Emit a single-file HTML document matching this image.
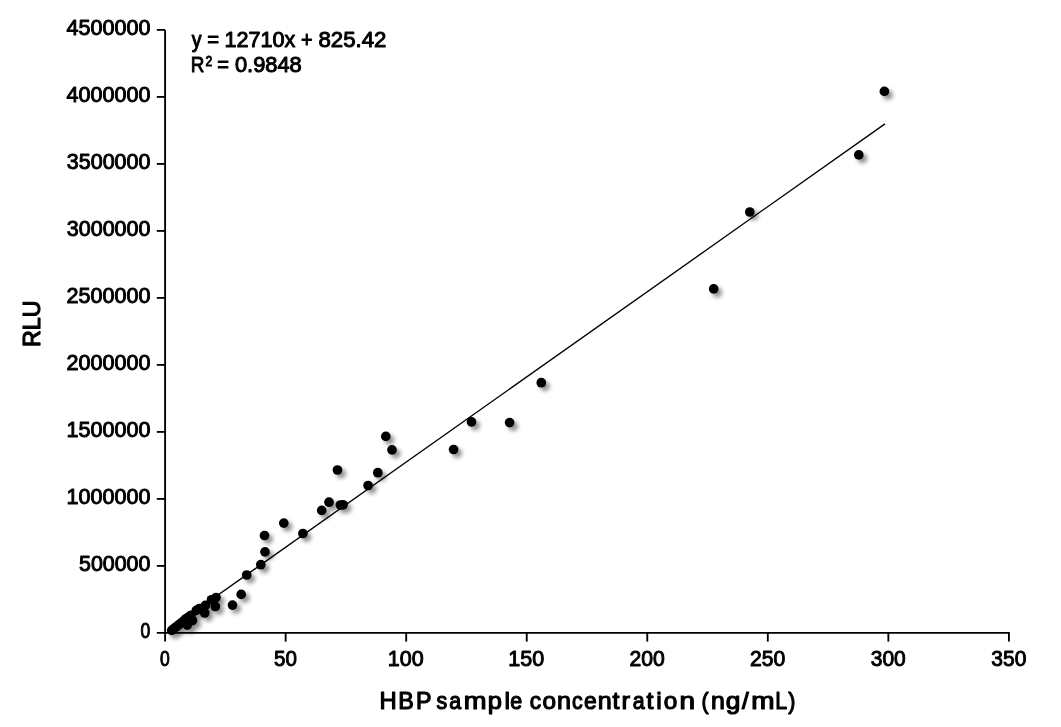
<!DOCTYPE html>
<html><head><meta charset="utf-8"><title>HBP chart</title>
<style>
html,body{margin:0;padding:0;background:#fff;}
body{width:1061px;height:727px;overflow:hidden;font-family:"Liberation Sans",sans-serif;}
svg{display:block;will-change:transform;}
text{font-family:"Liberation Sans",sans-serif;fill:#000;}
.t{stroke:#000;stroke-width:1.0px;stroke-linejoin:round;}
.b{stroke:#000;stroke-width:1.2px;stroke-linejoin:round;}
</style></head><body>
<svg width="1061" height="727" viewBox="0 0 1061 727">
<defs>
<filter id="sh" x="-50%" y="-50%" width="200%" height="200%">
<feGaussianBlur stdDeviation="2.2"/>
</filter>
</defs>
<rect width="1061" height="727" fill="#fff"/>

<g stroke="#000" stroke-width="1.85" fill="none">
<line x1="165.1" y1="29.90" x2="165.1" y2="641.60"/>
<line x1="156.79999999999998" y1="632.9" x2="1009.82" y2="632.9"/>
<line x1="156.79999999999998" y1="565.90" x2="165.1" y2="565.90"/>
<line x1="156.79999999999998" y1="498.90" x2="165.1" y2="498.90"/>
<line x1="156.79999999999998" y1="431.90" x2="165.1" y2="431.90"/>
<line x1="156.79999999999998" y1="364.90" x2="165.1" y2="364.90"/>
<line x1="156.79999999999998" y1="297.90" x2="165.1" y2="297.90"/>
<line x1="156.79999999999998" y1="230.90" x2="165.1" y2="230.90"/>
<line x1="156.79999999999998" y1="163.90" x2="165.1" y2="163.90"/>
<line x1="156.79999999999998" y1="96.90" x2="165.1" y2="96.90"/>
<line x1="156.79999999999998" y1="29.90" x2="165.1" y2="29.90"/>
<line x1="285.64" y1="632.9" x2="285.64" y2="641.60"/>
<line x1="406.19" y1="632.9" x2="406.19" y2="641.60"/>
<line x1="526.73" y1="632.9" x2="526.73" y2="641.60"/>
<line x1="647.27" y1="632.9" x2="647.27" y2="641.60"/>
<line x1="767.81" y1="632.9" x2="767.81" y2="641.60"/>
<line x1="888.36" y1="632.9" x2="888.36" y2="641.60"/>
<line x1="1008.90" y1="632.9" x2="1008.90" y2="641.60"/>
</g>
<text class="t" x="140.52" y="638.20" font-size="22.6" textLength="9.75" lengthAdjust="spacingAndGlyphs">0</text>
<text class="t" x="79.04" y="571.20" font-size="22.6" textLength="71.37" lengthAdjust="spacingAndGlyphs">500000</text>
<text class="t" x="66.58" y="504.20" font-size="22.6" textLength="83.84" lengthAdjust="spacingAndGlyphs">1000000</text>
<text class="t" x="66.58" y="437.20" font-size="22.6" textLength="83.84" lengthAdjust="spacingAndGlyphs">1500000</text>
<text class="t" x="66.54" y="370.20" font-size="22.6" textLength="83.88" lengthAdjust="spacingAndGlyphs">2000000</text>
<text class="t" x="66.54" y="303.20" font-size="22.6" textLength="83.88" lengthAdjust="spacingAndGlyphs">2500000</text>
<text class="t" x="66.80" y="236.20" font-size="22.6" textLength="83.61" lengthAdjust="spacingAndGlyphs">3000000</text>
<text class="t" x="66.80" y="169.20" font-size="22.6" textLength="83.61" lengthAdjust="spacingAndGlyphs">3500000</text>
<text class="t" x="66.55" y="102.20" font-size="22.6" textLength="83.87" lengthAdjust="spacingAndGlyphs">4000000</text>
<text class="t" x="66.55" y="35.20" font-size="22.6" textLength="83.87" lengthAdjust="spacingAndGlyphs">4500000</text>
<text class="t" x="160.12" y="665.90" font-size="22.6" textLength="9.75" lengthAdjust="spacingAndGlyphs">0</text>
<text class="t" x="274.07" y="665.90" font-size="22.6" textLength="22.91" lengthAdjust="spacingAndGlyphs">50</text>
<text class="t" x="387.75" y="665.90" font-size="22.6" textLength="35.86" lengthAdjust="spacingAndGlyphs">100</text>
<text class="t" x="508.30" y="665.90" font-size="22.6" textLength="35.86" lengthAdjust="spacingAndGlyphs">150</text>
<text class="t" x="629.41" y="665.90" font-size="22.6" textLength="35.27" lengthAdjust="spacingAndGlyphs">200</text>
<text class="t" x="749.96" y="665.90" font-size="22.6" textLength="35.27" lengthAdjust="spacingAndGlyphs">250</text>
<text class="t" x="870.76" y="665.90" font-size="22.6" textLength="35.00" lengthAdjust="spacingAndGlyphs">300</text>
<text class="t" x="991.30" y="665.90" font-size="22.6" textLength="35.00" lengthAdjust="spacingAndGlyphs">350</text>
<line x1="167.51" y1="630.69" x2="884.98" y2="123.83" stroke="#000" stroke-width="1.35"/>
<g filter="url(#sh)" fill="#000" opacity="0.44" transform="translate(3.6,3.6)">
<circle cx="884.4" cy="91.4" r="4.85"/>
<circle cx="858.8" cy="154.9" r="4.85"/>
<circle cx="749.8" cy="212.0" r="4.85"/>
<circle cx="713.7" cy="288.9" r="4.85"/>
<circle cx="541.3" cy="382.7" r="4.85"/>
<circle cx="509.6" cy="422.6" r="4.85"/>
<circle cx="471.5" cy="421.9" r="4.85"/>
<circle cx="453.6" cy="449.5" r="4.85"/>
<circle cx="385.8" cy="436.4" r="4.85"/>
<circle cx="392.0" cy="449.9" r="4.85"/>
<circle cx="377.8" cy="472.7" r="4.85"/>
<circle cx="368.1" cy="485.5" r="4.85"/>
<circle cx="337.5" cy="470.0" r="4.85"/>
<circle cx="340.4" cy="505.0" r="4.85"/>
<circle cx="343.0" cy="504.8" r="4.85"/>
<circle cx="329.0" cy="502.2" r="4.85"/>
<circle cx="321.7" cy="510.4" r="4.85"/>
<circle cx="302.9" cy="533.5" r="4.85"/>
<circle cx="283.8" cy="523.1" r="4.85"/>
<circle cx="264.5" cy="535.5" r="4.85"/>
<circle cx="265.0" cy="551.9" r="4.85"/>
<circle cx="260.8" cy="564.7" r="4.85"/>
<circle cx="246.7" cy="575.0" r="4.85"/>
<circle cx="241.2" cy="594.4" r="4.85"/>
<circle cx="232.5" cy="605.1" r="4.85"/>
<circle cx="216.0" cy="597.5" r="4.85"/>
<circle cx="215.3" cy="606.5" r="4.85"/>
<circle cx="211.5" cy="599.8" r="4.85"/>
<circle cx="205.4" cy="605.4" r="4.85"/>
<circle cx="204.7" cy="613.0" r="4.85"/>
<circle cx="199.4" cy="608.5" r="4.85"/>
<circle cx="196.3" cy="610.4" r="4.85"/>
<circle cx="191.0" cy="615.3" r="4.85"/>
<circle cx="192.5" cy="620.6" r="4.85"/>
<circle cx="187.3" cy="625.1" r="4.85"/>
<circle cx="185.7" cy="619.0" r="4.85"/>
<circle cx="171.7" cy="630.4" r="4.85"/>
<circle cx="173.9" cy="628.7" r="4.85"/>
<circle cx="176.0" cy="627.0" r="4.85"/>
<circle cx="178.2" cy="625.3" r="4.85"/>
<circle cx="180.3" cy="623.6" r="4.85"/>
<circle cx="182.5" cy="621.9" r="4.85"/>
<circle cx="184.7" cy="620.2" r="4.85"/>
<circle cx="186.8" cy="618.5" r="4.85"/>
<circle cx="189.0" cy="616.8" r="4.85"/>
</g>
<g fill="#000">
<circle cx="884.4" cy="91.4" r="4.85"/>
<circle cx="858.8" cy="154.9" r="4.85"/>
<circle cx="749.8" cy="212.0" r="4.85"/>
<circle cx="713.7" cy="288.9" r="4.85"/>
<circle cx="541.3" cy="382.7" r="4.85"/>
<circle cx="509.6" cy="422.6" r="4.85"/>
<circle cx="471.5" cy="421.9" r="4.85"/>
<circle cx="453.6" cy="449.5" r="4.85"/>
<circle cx="385.8" cy="436.4" r="4.85"/>
<circle cx="392.0" cy="449.9" r="4.85"/>
<circle cx="377.8" cy="472.7" r="4.85"/>
<circle cx="368.1" cy="485.5" r="4.85"/>
<circle cx="337.5" cy="470.0" r="4.85"/>
<circle cx="340.4" cy="505.0" r="4.85"/>
<circle cx="343.0" cy="504.8" r="4.85"/>
<circle cx="329.0" cy="502.2" r="4.85"/>
<circle cx="321.7" cy="510.4" r="4.85"/>
<circle cx="302.9" cy="533.5" r="4.85"/>
<circle cx="283.8" cy="523.1" r="4.85"/>
<circle cx="264.5" cy="535.5" r="4.85"/>
<circle cx="265.0" cy="551.9" r="4.85"/>
<circle cx="260.8" cy="564.7" r="4.85"/>
<circle cx="246.7" cy="575.0" r="4.85"/>
<circle cx="241.2" cy="594.4" r="4.85"/>
<circle cx="232.5" cy="605.1" r="4.85"/>
<circle cx="216.0" cy="597.5" r="4.85"/>
<circle cx="215.3" cy="606.5" r="4.85"/>
<circle cx="211.5" cy="599.8" r="4.85"/>
<circle cx="205.4" cy="605.4" r="4.85"/>
<circle cx="204.7" cy="613.0" r="4.85"/>
<circle cx="199.4" cy="608.5" r="4.85"/>
<circle cx="196.3" cy="610.4" r="4.85"/>
<circle cx="191.0" cy="615.3" r="4.85"/>
<circle cx="192.5" cy="620.6" r="4.85"/>
<circle cx="187.3" cy="625.1" r="4.85"/>
<circle cx="185.7" cy="619.0" r="4.85"/>
<circle cx="171.7" cy="630.4" r="4.85"/>
<circle cx="173.9" cy="628.7" r="4.85"/>
<circle cx="176.0" cy="627.0" r="4.85"/>
<circle cx="178.2" cy="625.3" r="4.85"/>
<circle cx="180.3" cy="623.6" r="4.85"/>
<circle cx="182.5" cy="621.9" r="4.85"/>
<circle cx="184.7" cy="620.2" r="4.85"/>
<circle cx="186.8" cy="618.5" r="4.85"/>
<circle cx="189.0" cy="616.8" r="4.85"/>
</g>
<text class="t" x="191.86" y="47.05" font-size="22.6" textLength="9.78" lengthAdjust="spacingAndGlyphs">y</text>
<text class="t" x="207.32" y="47.05" font-size="22.6" textLength="11.87" lengthAdjust="spacingAndGlyphs">=</text>
<text class="t" x="224.46" y="47.05" font-size="22.6" textLength="70.85" lengthAdjust="spacingAndGlyphs">12710x</text>
<text class="t" x="301.05" y="47.05" font-size="22.6" textLength="11.51" lengthAdjust="spacingAndGlyphs">+</text>
<text class="t" x="318.44" y="47.05" font-size="22.6" textLength="67.98" lengthAdjust="spacingAndGlyphs">825.42</text>
<text class="t" x="190.65" y="72.40" font-size="22.6" textLength="13.62" lengthAdjust="spacingAndGlyphs">R</text>
<text class="t" x="217.23" y="72.40" font-size="22.6" textLength="11.75" lengthAdjust="spacingAndGlyphs">=</text>
<text class="t" x="234.95" y="72.40" font-size="22.6" textLength="66.80" lengthAdjust="spacingAndGlyphs">0.9848</text>
<text class="t" x="205.60" y="66.30" font-size="14.6" textLength="6.71" lengthAdjust="spacingAndGlyphs">2</text>
<text class="b" x="379.55" y="708.60" font-size="24.3" textLength="17.18" lengthAdjust="spacingAndGlyphs">H</text>
<text class="b" x="398.29" y="708.60" font-size="24.3" textLength="15.52" lengthAdjust="spacingAndGlyphs">B</text>
<text class="b" x="416.09" y="708.60" font-size="24.3" textLength="15.52" lengthAdjust="spacingAndGlyphs">P</text>
<text class="b" x="436.60" y="708.60" font-size="24.3" textLength="10.69" lengthAdjust="spacingAndGlyphs">s</text>
<text class="b" x="449.20" y="708.60" font-size="24.3" textLength="11.89" lengthAdjust="spacingAndGlyphs">a</text>
<text class="b" x="463.69" y="708.60" font-size="24.3" textLength="22.78" lengthAdjust="spacingAndGlyphs">m</text>
<text class="b" x="487.67" y="708.60" font-size="24.3" textLength="14.18" lengthAdjust="spacingAndGlyphs">p</text>
<text class="b" x="504.54" y="708.60" font-size="24.3" textLength="5.49" lengthAdjust="spacingAndGlyphs">l</text>
<text class="b" x="510.33" y="708.60" font-size="24.3" textLength="11.89" lengthAdjust="spacingAndGlyphs">e</text>
<text class="b" x="529.75" y="708.60" font-size="24.3" textLength="11.34" lengthAdjust="spacingAndGlyphs">c</text>
<text class="b" x="542.38" y="708.60" font-size="24.3" textLength="13.52" lengthAdjust="spacingAndGlyphs">o</text>
<text class="b" x="557.04" y="708.60" font-size="24.3" textLength="13.97" lengthAdjust="spacingAndGlyphs">n</text>
<text class="b" x="572.08" y="708.60" font-size="24.3" textLength="10.69" lengthAdjust="spacingAndGlyphs">c</text>
<text class="b" x="584.04" y="708.60" font-size="24.3" textLength="12.66" lengthAdjust="spacingAndGlyphs">e</text>
<text class="b" x="597.74" y="708.60" font-size="24.3" textLength="13.97" lengthAdjust="spacingAndGlyphs">n</text>
<text class="b" x="612.62" y="708.60" font-size="24.3" textLength="6.95" lengthAdjust="spacingAndGlyphs">t</text>
<text class="b" x="621.52" y="708.60" font-size="24.3" textLength="8.49" lengthAdjust="spacingAndGlyphs">r</text>
<text class="b" x="632.70" y="708.60" font-size="24.3" textLength="11.89" lengthAdjust="spacingAndGlyphs">a</text>
<text class="b" x="646.52" y="708.60" font-size="24.3" textLength="6.95" lengthAdjust="spacingAndGlyphs">t</text>
<text class="b" x="656.27" y="708.60" font-size="24.3" textLength="5.49" lengthAdjust="spacingAndGlyphs">i</text>
<text class="b" x="663.68" y="708.60" font-size="24.3" textLength="13.52" lengthAdjust="spacingAndGlyphs">o</text>
<text class="b" x="679.50" y="708.60" font-size="24.3" textLength="15.54" lengthAdjust="spacingAndGlyphs">n</text>
<text class="b" x="701.38" y="708.60" font-size="24.3" textLength="7.12" lengthAdjust="spacingAndGlyphs">(</text>
<text class="b" x="711.06" y="708.60" font-size="24.3" textLength="13.84" lengthAdjust="spacingAndGlyphs">n</text>
<text class="b" x="725.70" y="708.60" font-size="24.3" textLength="14.58" lengthAdjust="spacingAndGlyphs">g</text>
<text class="b" x="742.10" y="708.60" font-size="24.3" textLength="6.70" lengthAdjust="spacingAndGlyphs">/</text>
<text class="b" x="751.30" y="708.60" font-size="24.3" textLength="23.28" lengthAdjust="spacingAndGlyphs">m</text>
<text class="b" x="775.13" y="708.60" font-size="24.3" textLength="11.89" lengthAdjust="spacingAndGlyphs">L</text>
<text class="b" x="788.25" y="708.60" font-size="24.3" textLength="7.12" lengthAdjust="spacingAndGlyphs">)</text>
<g transform="translate(39.9,0) rotate(-90)"><text class="b" x="-347.11" y="0.00" font-size="24.3" textLength="46.59" lengthAdjust="spacingAndGlyphs">RLU</text></g>
</svg></body></html>
